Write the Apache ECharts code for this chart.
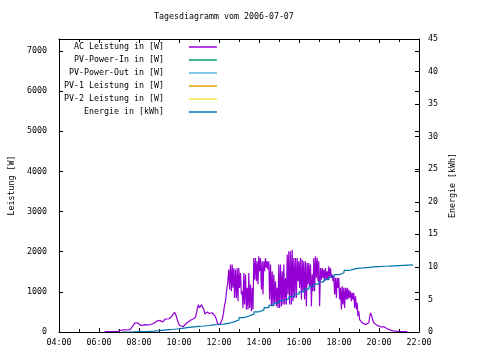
<!DOCTYPE html>
<html>
<head>
<meta charset="utf-8">
<script src="https://cdn.jsdelivr.net/npm/echarts@6/dist/echarts.min.js"></script>
<style>html,body{margin:0;padding:0;background:#fff}#c{width:480px;height:360px}</style>
</head>
<body>
<div id="c"></div>
<script>
const titleText = 'Tagesdiagramm vom 2006-07-07';
const seriesNames = ['AC Leistung in [W]', 'PV-Power-In in [W]', 'PV-Power-Out in [W]', 'PV-1 Leistung in [W]', 'PV-2 Leistung in [W]', 'Energie in [kWh]'];
const seriesColors = ['#9400d3', '#009e73', '#56b4e9', '#e69f00', '#f0e442', '#0072b2'];
const xTickLabels = ['04:00', '06:00', '08:00', '10:00', '12:00', '14:00', '16:00', '18:00', '20:00', '22:00'];

// AC power: time (decimal hours), value (W)
const acTime = [
  6.28, 6.6, 6.92, 6.95, 7.2, 7.55, 7.62, 7.7, 7.78, 7.85, 7.92, 8.0, 8.1, 8.2, 8.3, 8.4, 8.5, 8.6, 8.7, 8.8,
  8.88, 8.95, 9.05, 9.15, 9.2, 9.3, 9.4, 9.5, 9.55, 9.62, 9.7, 9.78, 9.85, 9.9, 9.95, 10.02, 10.1, 10.2, 10.3, 10.4,
  10.5, 10.6, 10.7, 10.8, 10.87, 10.92, 10.97, 11.02, 11.08, 11.13, 11.18, 11.24, 11.3, 11.36, 11.41, 11.46, 11.52, 11.58, 11.66, 11.74,
  11.8, 11.86, 11.92, 11.98, 12.05, 12.1, 12.16, 12.22, 12.27, 12.33, 12.38, 12.43,
  12.49, 12.53, 12.575, 12.62, 12.66, 12.70, 12.74, 12.78, 12.825, 12.87, 12.91, 12.95, 12.99, 13.03,
  13.075, 13.12, 13.16, 13.20, 13.24, 13.28, 13.325, 13.37, 13.41, 13.45, 13.49, 13.53, 13.575, 13.62, 13.66, 13.70,
  13.74, 13.78, 13.825, 13.87, 13.91, 13.95, 13.99, 14.03, 14.075, 14.12, 14.16, 14.20, 14.24, 14.28, 14.325, 14.37,
  14.41, 14.45, 14.49, 14.53, 14.575, 14.62, 14.66, 14.70, 14.74, 14.78, 14.825, 14.87, 14.91, 14.95, 14.99, 15.03,
  15.075, 15.12, 15.16, 15.20, 15.24, 15.28, 15.325, 15.37, 15.41, 15.45, 15.49, 15.53, 15.575, 15.62, 15.66, 15.70,
  15.74, 15.78, 15.825, 15.87, 15.91, 15.95, 15.99, 16.03, 16.075, 16.12, 16.16, 16.20, 16.24, 16.28, 16.325, 16.37,
  16.41, 16.45, 16.49, 16.53, 16.575, 16.62, 16.66, 16.70, 16.74, 16.78, 16.825, 16.87, 16.91, 16.95, 16.99, 17.03,
  17.075, 17.12, 17.16, 17.20, 17.24, 17.28, 17.325, 17.37, 17.41, 17.45, 17.49, 17.53, 17.575, 17.62, 17.66, 17.70,
  17.74, 17.78, 17.825, 17.87, 17.91, 17.95, 17.99, 18.03, 18.075, 18.12, 18.16, 18.20, 18.24, 18.28, 18.325, 18.37,
  18.41, 18.45, 18.49, 18.53, 18.575, 18.62, 18.66, 18.70, 18.74, 18.78, 18.825, 18.87, 18.91, 18.95, 18.99, 19.03,
  19.08, 19.16, 19.24, 19.33, 19.41, 19.49, 19.54, 19.575, 19.62, 19.66, 19.7, 19.74, 19.825, 19.91, 19.99, 20.075,
  20.16, 20.24, 20.325, 20.41, 20.5, 20.575, 20.7, 20.825, 21.0, 21.2, 21.41
];
const acPower = [
  10, 12, 15, 50, 55, 60, 100, 150, 220, 245, 230, 190, 160, 150, 185, 170, 175, 190, 205, 230,
  270, 310, 290, 270, 250, 320, 350, 330, 300, 380, 440, 490, 420, 330, 250, 170, 140, 130, 160, 230,
  260, 300, 320, 350, 450, 600, 680, 600, 560, 680, 620, 560, 450, 430, 500, 480, 460, 500, 480, 440,
  400, 330, 220, 190, 180, 250, 310, 450, 650, 780, 1050, 1200,
  1555, 1057, 1679, 1016, 1679, 1100, 1596, 850, 1555, 850, 1596, 767, 1596, 1099,
  1472, 933, 1016, 601, 1472, 684, 1430, 560, 1099, 560, 1472, 601, 1182, 518, 1099, 560,
  1845, 1300, 1845, 1265, 1762, 1182, 1886, 1513, 1845, 1057, 1762, 933, 1762, 1513, 1845, 1596,
  1762, 1555, 1762, 809, 1679, 643, 1513, 643, 1430, 726, 1265, 643, 1099, 601, 1679, 601,
  1679, 643, 1513, 684, 1679, 684, 1348, 684, 1928, 933, 2011, 684, 2011, 684, 2052, 767,
  1845, 850, 1845, 850, 1845, 1265, 1762, 1099, 1845, 809, 1804, 1016, 1762, 809, 1762, 643,
  1721, 1182, 1721, 1140, 1679, 643, 1430, 1016, 1845, 1016, 1886, 1348, 1845, 1265, 1762, 643,
  1596, 1306, 1596, 1348, 1555, 1265, 1596, 1306, 1513, 1306, 1638, 1348, 1596, 1348, 1430, 1265,
  1389, 933, 1348, 850, 1348, 1099, 1348, 809, 1099, 560, 1140, 684, 1099, 601, 1099, 809,
  1099, 809, 1057, 850, 1016, 767, 975, 809, 975, 601, 892, 560, 726, 394, 518, 311,
  300, 228, 190, 185, 187, 230, 393, 476, 420, 350, 280, 230, 187, 165, 130, 130,
  105, 130, 105, 80, 60, 47, 30, 20, 15, 10, 10
];

// Energy: time (decimal hours), value (kWh)
const enTime = [
  7.16, 7.5, 7.75, 8.0, 8.25, 8.5, 8.75, 9.0, 9.25, 9.5, 9.75, 10.0, 10.25, 10.5, 10.75, 11.0, 11.25, 11.5, 11.75, 12.0,
  12.25, 12.5, 12.75, 13.0, 13.25, 13.5, 13.75, 14.0, 14.25, 14.5, 14.75, 15.0, 15.25, 15.5, 15.75, 16.0, 16.25, 16.5, 16.75, 17.0,
  17.25, 17.5, 17.75, 18.0, 18.25, 18.5, 18.75, 19.0, 19.25, 19.5, 19.75, 20.0, 20.25, 20.5, 20.55, 21.7
];
const enValue = [
  0, 0.02, 0.05, 0.08, 0.1, 0.13, 0.2, 0.28, 0.35, 0.42, 0.5, 0.6, 0.7, 0.78, 0.85, 0.92, 1.0, 1.1, 1.15, 1.22,
  1.35, 1.55, 1.85, 2.2, 2.45, 2.75, 3.1, 3.4, 3.75, 4.1, 4.45, 4.8, 5.1, 5.45, 5.8, 6.15, 6.6, 7.0, 7.35, 7.7,
  8.05, 8.45, 8.8, 9.1, 9.45, 9.65, 9.8, 9.85, 9.92, 10.0, 10.05, 10.1, 10.12, 10.15, 10.3, 10.3
];

const FONT = 'DejaVu Sans Mono';
const FS = 8.3;
const acData = acTime.map((t, i) => [t, acPower[i]]);
const enData = enTime.map((t, i) => [t, enValue[i]]);

const chart = echarts.init(document.getElementById('c'), null, {renderer: 'canvas'});
const txt = {fontFamily: FONT, fontSize: FS, color: '#000'};
const xBase = {
  type: 'value', min: 4, max: 22, interval: 2,
  axisLine: {show: true, onZero: false, lineStyle: {color: '#000', width: 1}},
  axisTick: {show: true, inside: true, length: 4, lineStyle: {color: '#000'}},
  minorTick: {show: true, splitNumber: 2, length: 3, lineStyle: {color: '#000'}},
  splitLine: {show: false}
};
const yPowBase = {
  type: 'value', min: 0, max: 7300, interval: 1000,
  axisLine: {show: true, onZero: false, lineStyle: {color: '#000', width: 1}},
  axisTick: {show: true, inside: true, length: 4, lineStyle: {color: '#000'}},
  splitLine: {show: false}
};

const series = seriesNames.map((name, i) => {
  const s = {
    name, type: 'line', showSymbol: false, symbol: 'none',
    color: seriesColors[i],
    lineStyle: {width: 1.2, color: seriesColors[i]},
    data: [], animation: false, xAxisIndex: 0, yAxisIndex: 0
  };
  if (i === 0) s.data = acData;
  if (i === 5) { s.data = enData; s.yAxisIndex = 1; s.step = 'end'; }
  return s;
});

chart.setOption({
  backgroundColor: '#fff',
  animation: false,
  title: {text: titleText, left: 154, top: 13, padding: 0, textStyle: {fontFamily: FONT, fontSize: FS, fontWeight: 'normal', color: '#000'}},
  legend: {
    orient: 'vertical', left: 64, top: 42, padding: 0, itemGap: 3,
    itemWidth: 28, itemHeight: 1.5, icon: 'rect', align: 'right', selectedMode: false,
    textStyle: Object.assign({lineHeight: 10}, txt),
    formatter: n => n.padStart(20, ' ') + '    ',
    data: seriesNames
  },
  grid: {left: 59, right: 61, top: 39, bottom: 28},
  xAxis: [
    Object.assign({}, xBase, {position: 'bottom',
      axisLabel: {show: true, margin: 7, fontFamily: FONT, fontSize: FS, color: '#000',
        formatter: v => xTickLabels[Math.round((v - 4) / 2)] || ''}}),
    Object.assign({}, xBase, {position: 'top', axisLabel: {show: false}})
  ],
  yAxis: [
    Object.assign({}, yPowBase, {position: 'left', name: 'Leistung [W]', nameLocation: 'middle', nameGap: 43, nameRotate: 90,
      nameTextStyle: txt,
      axisLabel: {show: true, margin: 12, showMaxLabel: false, fontFamily: FONT, fontSize: FS, color: '#000',
        formatter: v => String(v)}}),
    {type: 'value', min: 0, max: 45, interval: 5, position: 'right',
      name: 'Energie [kWh]', nameLocation: 'middle', nameGap: 29, nameRotate: 90, nameTextStyle: txt,
      axisLine: {show: true, onZero: false, lineStyle: {color: '#000', width: 1}},
      axisTick: {show: true, inside: true, length: 4, lineStyle: {color: '#000'}},
      axisLabel: {show: true, margin: 9, fontFamily: FONT, fontSize: FS, color: '#000', formatter: v => String(v)},
      splitLine: {show: false}},
    Object.assign({}, yPowBase, {position: 'right', axisLine: {show: false}, axisLabel: {show: false}})
  ],
  series
});
</script>
</body>
</html>
